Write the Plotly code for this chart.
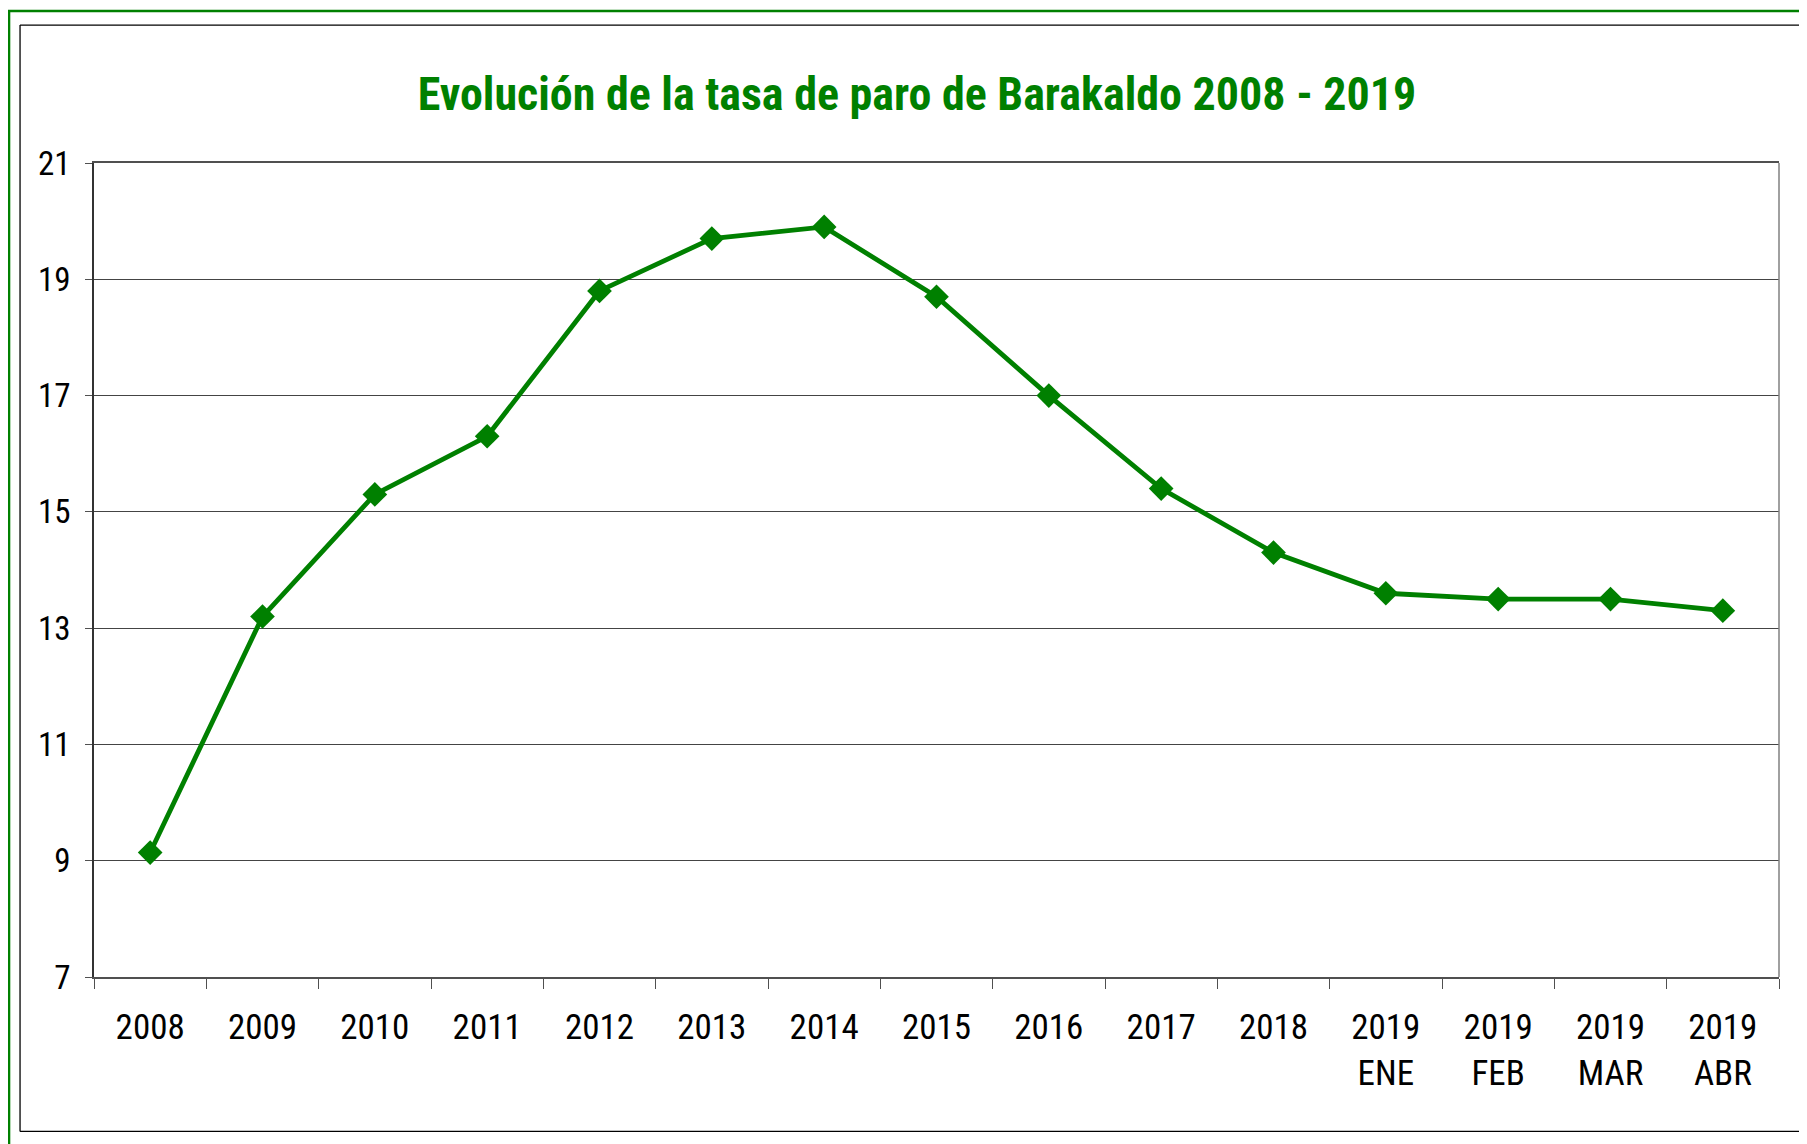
import plotly.graph_objects as go

categories = ["2008", "2009", "2010", "2011", "2012", "2013", "2014", "2015",
              "2016", "2017", "2018", "2019<br>ENE", "2019<br>FEB", "2019<br>MAR", "2019<br>ABR"]
tasa_paro = [9.14, 13.2, 15.3, 16.3, 18.8, 19.7, 19.9, 18.7, 17.0, 15.4, 14.3, 13.6, 13.5, 13.5, 13.3]
y_ticks = [7, 9, 11, 13, 15, 17, 19, 21]
title_text = "Evolución de la tasa de paro de Barakaldo 2008 - 2019"

W, H = 1807, 1144
OFF = 8  # default page body margin
# plot-area edges in page pixels
L, R, T, B = 93.5 - OFF, 1779.5 - OFF, 163 - OFF, 977.5 - OFF
GREEN = "#008000"
FONT = "Roboto Condensed, Liberation Sans Narrow, Arial Narrow, DejaVu Sans Condensed, sans-serif"


def px(x):  # page pixel -> paper x
    return (x - OFF - L) / (R - L)


def py(y):  # page pixel -> paper y
    return (B - (y - OFF)) / (B - T)


fig = go.Figure()
fig.add_trace(go.Scatter(
    x=categories, y=tasa_paro, mode="lines+markers",
    line=dict(color=GREEN, width=4.8),
    marker=dict(symbol="diamond", size=19, color=GREEN),
    showlegend=False, cliponaxis=False,
))

shapes = [
    # outer green frame (left + top visible)
    dict(type="line", xref="paper", yref="paper", x0=px(8.5), x1=px(8.5), y0=py(10), y1=py(1300),
         line=dict(color=GREEN, width=2.5)),
    dict(type="line", xref="paper", yref="paper", x0=px(7.2), x1=px(1950), y0=py(11), y1=py(11),
         line=dict(color=GREEN, width=2.5)),
    # inner black frame
    dict(type="line", xref="paper", yref="paper", x0=px(19.5), x1=px(19.5), y0=py(25), y1=py(1132),
         line=dict(color="black", width=1.3)),
    dict(type="line", xref="paper", yref="paper", x0=px(19.5), x1=px(1950), y0=py(25), y1=py(25),
         line=dict(color="black", width=1.3)),
    dict(type="line", xref="paper", yref="paper", x0=px(19.5), x1=px(1950), y0=py(1132), y1=py(1132),
         line=dict(color="black", width=1.3)),
    # right border of plot area (gray)
    dict(type="line", xref="paper", yref="paper", x0=1, x1=1, y0=0, y1=1,
         line=dict(color="#808080", width=1.5)),
]

fig.update_layout(
    width=W, height=H,
    margin=dict(l=L, r=W - R, t=T, b=H - B, pad=0),
    paper_bgcolor="white", plot_bgcolor="white",
    font=dict(family=FONT, color="black"),
    title=dict(text="<b>" + title_text + "</b>", x=(917 - OFF) / W, xanchor="center",
               y=1 - (94 - OFF) / H, yanchor="middle", yref="container",
               font=dict(family=FONT, size=46, color=GREEN)),
    shapes=shapes,
    xaxis=dict(
        type="category", range=[-0.5, len(categories) - 0.5],
        showline=True, linecolor="#505050", linewidth=2, mirror=True,
        ticks="outside", tickson="boundaries", ticklen=10, tickcolor="#505050", tickwidth=1,
        showgrid=False, tickfont=dict(size=35, color="black", family=FONT),
        ticklabelstandoff=18,
        zeroline=False, fixedrange=True,
    ),
    yaxis=dict(
        range=[7, 21], tickvals=y_ticks,
        showline=True, linecolor="#333333", linewidth=1.5,
        ticks="outside", ticklen=7, tickcolor="#505050",
        showgrid=True, gridcolor="#444444", gridwidth=1.2,
        tickfont=dict(size=33, color="black", family=FONT),
        ticklabelstandoff=8,
        zeroline=False, fixedrange=True,
    ),
)

fig.write_html("out.html")
